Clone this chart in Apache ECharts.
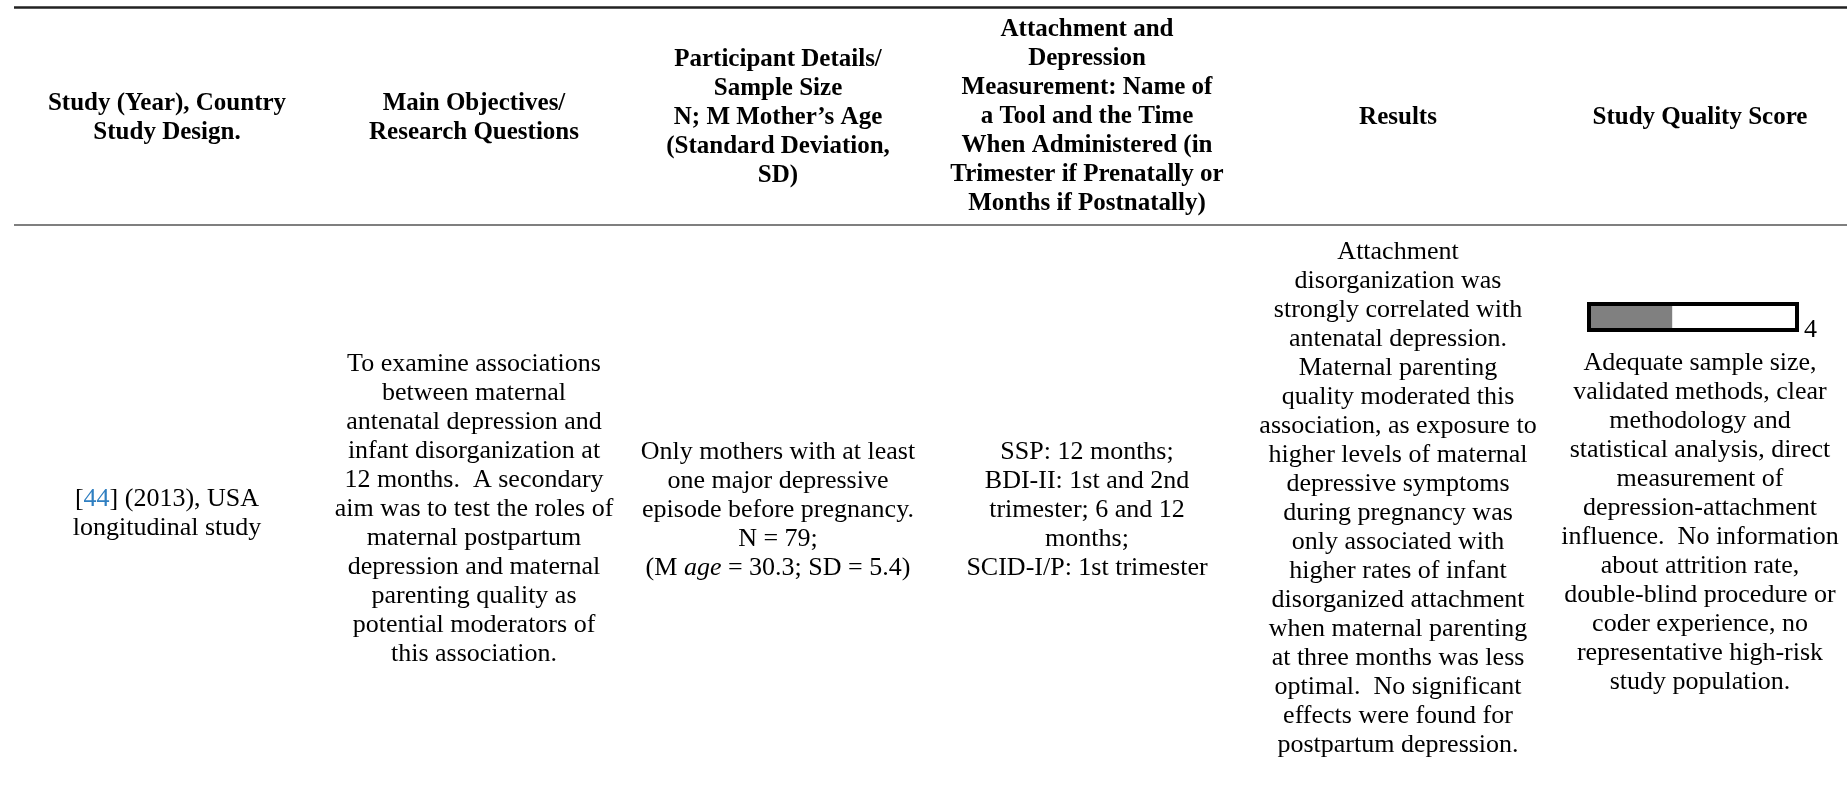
<!DOCTYPE html>
<html>
<head>
<meta charset="utf-8">
<script src="https://cdn.jsdelivr.net/npm/echarts@6/dist/echarts.min.js"></script>
<style>
html,body{margin:0;padding:0;background:#fff;}
#chart{width:1847px;height:791px;}
</style>
</head>
<body>
<div id="chart"></div>
<script>
// ---------- DATA ----------
const headerTexts = [
  'Study (Year), Country\nStudy Design.',
  'Main Objectives/\nResearch Questions',
  'Participant Details/\nSample Size\nN; M Mother\u2019s Age\n(Standard Deviation,\nSD)',
  'Attachment and\nDepression\nMeasurement: Name of\na Tool and the Time\nWhen Administered (in\nTrimester if Prenatally or\nMonths if Postnatally)',
  'Results',
  'Study Quality Score'
];
const studyCell = '[{ref|44}] (2013), USA\nlongitudinal study';
const objectivesCell = 'To examine associations\nbetween maternal\nantenatal depression and\ninfant disorganization at\n12 months.  A secondary\naim was to test the roles of\nmaternal postpartum\ndepression and maternal\nparenting quality as\npotential moderators of\nthis association.';
const participantsCell = 'Only mothers with at least\none major depressive\nepisode before pregnancy.\nN = 79;\n(M {it|age} = 30.3; SD = 5.4)';
const measurementCell = 'SSP: 12 months;\nBDI-II: 1st and 2nd\ntrimester; 6 and 12\nmonths;\nSCID-I/P: 1st trimester';
const resultsCell = 'Attachment\ndisorganization was\nstrongly correlated with\nantenatal depression.\nMaternal parenting\nquality moderated this\nassociation, as exposure to\nhigher levels of maternal\ndepressive symptoms\nduring pregnancy was\nonly associated with\nhigher rates of infant\ndisorganized attachment\nwhen maternal parenting\nat three months was less\noptimal.  No significant\neffects were found for\npostpartum depression.';
const qualityCell = 'Adequate sample size,\nvalidated methods, clear\nmethodology and\nstatistical analysis, direct\nmeasurement of\ndepression-attachment\ninfluence.  No information\nabout attrition rate,\ndouble-blind procedure or\ncoder experience, no\nrepresentative high-risk\nstudy population.';
const scoreCategories = ['[44] (2013)'];
const qualityScore = [4];
const qualityMax = 10;

// ---------- LAYOUT ----------
const FAMILY = '"Liberation Serif", "Times New Roman", serif';
const bodyFont = '26px ' + FAMILY;
const headFont = 'bold 25px ' + FAMILY;
const LH = 29;
const colX = [167, 474, 778, 1087, 1398, 1700];
const headerY = [118, 118, 118, 117, 118, 118];
const bodyCells = [studyCell, objectivesCell, participantsCell, measurementCell, resultsCell, qualityCell];
const bodyY = [514, 509, 510, 510, 498.5, 522.5];

const richStyles = {
  ref: { fill: '#2f7fc1', font: bodyFont, lineHeight: LH },
  it: { fill: '#000', font: 'italic 26px ' + FAMILY, lineHeight: LH }
};

const graphics = [];
graphics.push({ type: 'line', silent: true, shape: { x1: 14, y1: 7.5, x2: 1847, y2: 7.5 }, style: { stroke: '#222', lineWidth: 2.5 } });
graphics.push({ type: 'line', silent: true, shape: { x1: 14, y1: 225, x2: 1847, y2: 225 }, style: { stroke: '#555', lineWidth: 1.5 } });
headerTexts.forEach((t, i) => {
  graphics.push({ type: 'text', silent: true, x: colX[i], y: headerY[i],
    style: { text: t, font: headFont, fill: '#000', align: 'center', verticalAlign: 'middle', lineHeight: LH } });
});
bodyCells.forEach((t, i) => {
  graphics.push({ type: 'text', silent: true, x: colX[i], y: bodyY[i],
    style: { text: t, font: bodyFont, fill: '#000', align: 'center', verticalAlign: 'middle', lineHeight: LH, rich: richStyles } });
});

const chart = echarts.init(document.getElementById('chart'), null, { renderer: 'canvas' });
chart.setOption({
  animation: false,
  backgroundColor: '#fff',
  grid: {
    left: 1589, top: 304, width: 208, height: 26,
    show: true, z: 10,
    backgroundColor: 'rgba(0,0,0,0)',
    borderColor: '#000', borderWidth: 4
  },
  xAxis: { type: 'value', min: 0, max: qualityMax, show: false },
  yAxis: { type: 'category', data: scoreCategories, show: false },
  series: [
    { type: 'bar', stack: 'q', data: qualityScore, barWidth: '100%', silent: true,
      itemStyle: { color: '#808080' } },
    { type: 'bar', stack: 'q', data: qualityScore.map(v => qualityMax - v), barWidth: '100%', silent: true,
      itemStyle: { color: 'rgba(255,255,255,0)' },
      label: { show: true, position: 'right', distance: 7, offset: [0, 13],
        formatter: () => String(qualityScore[0]),
        fontFamily: 'Liberation Serif', fontSize: 26, color: '#000' } }
  ],
  graphic: { elements: graphics }
});
</script>
</body>
</html>
